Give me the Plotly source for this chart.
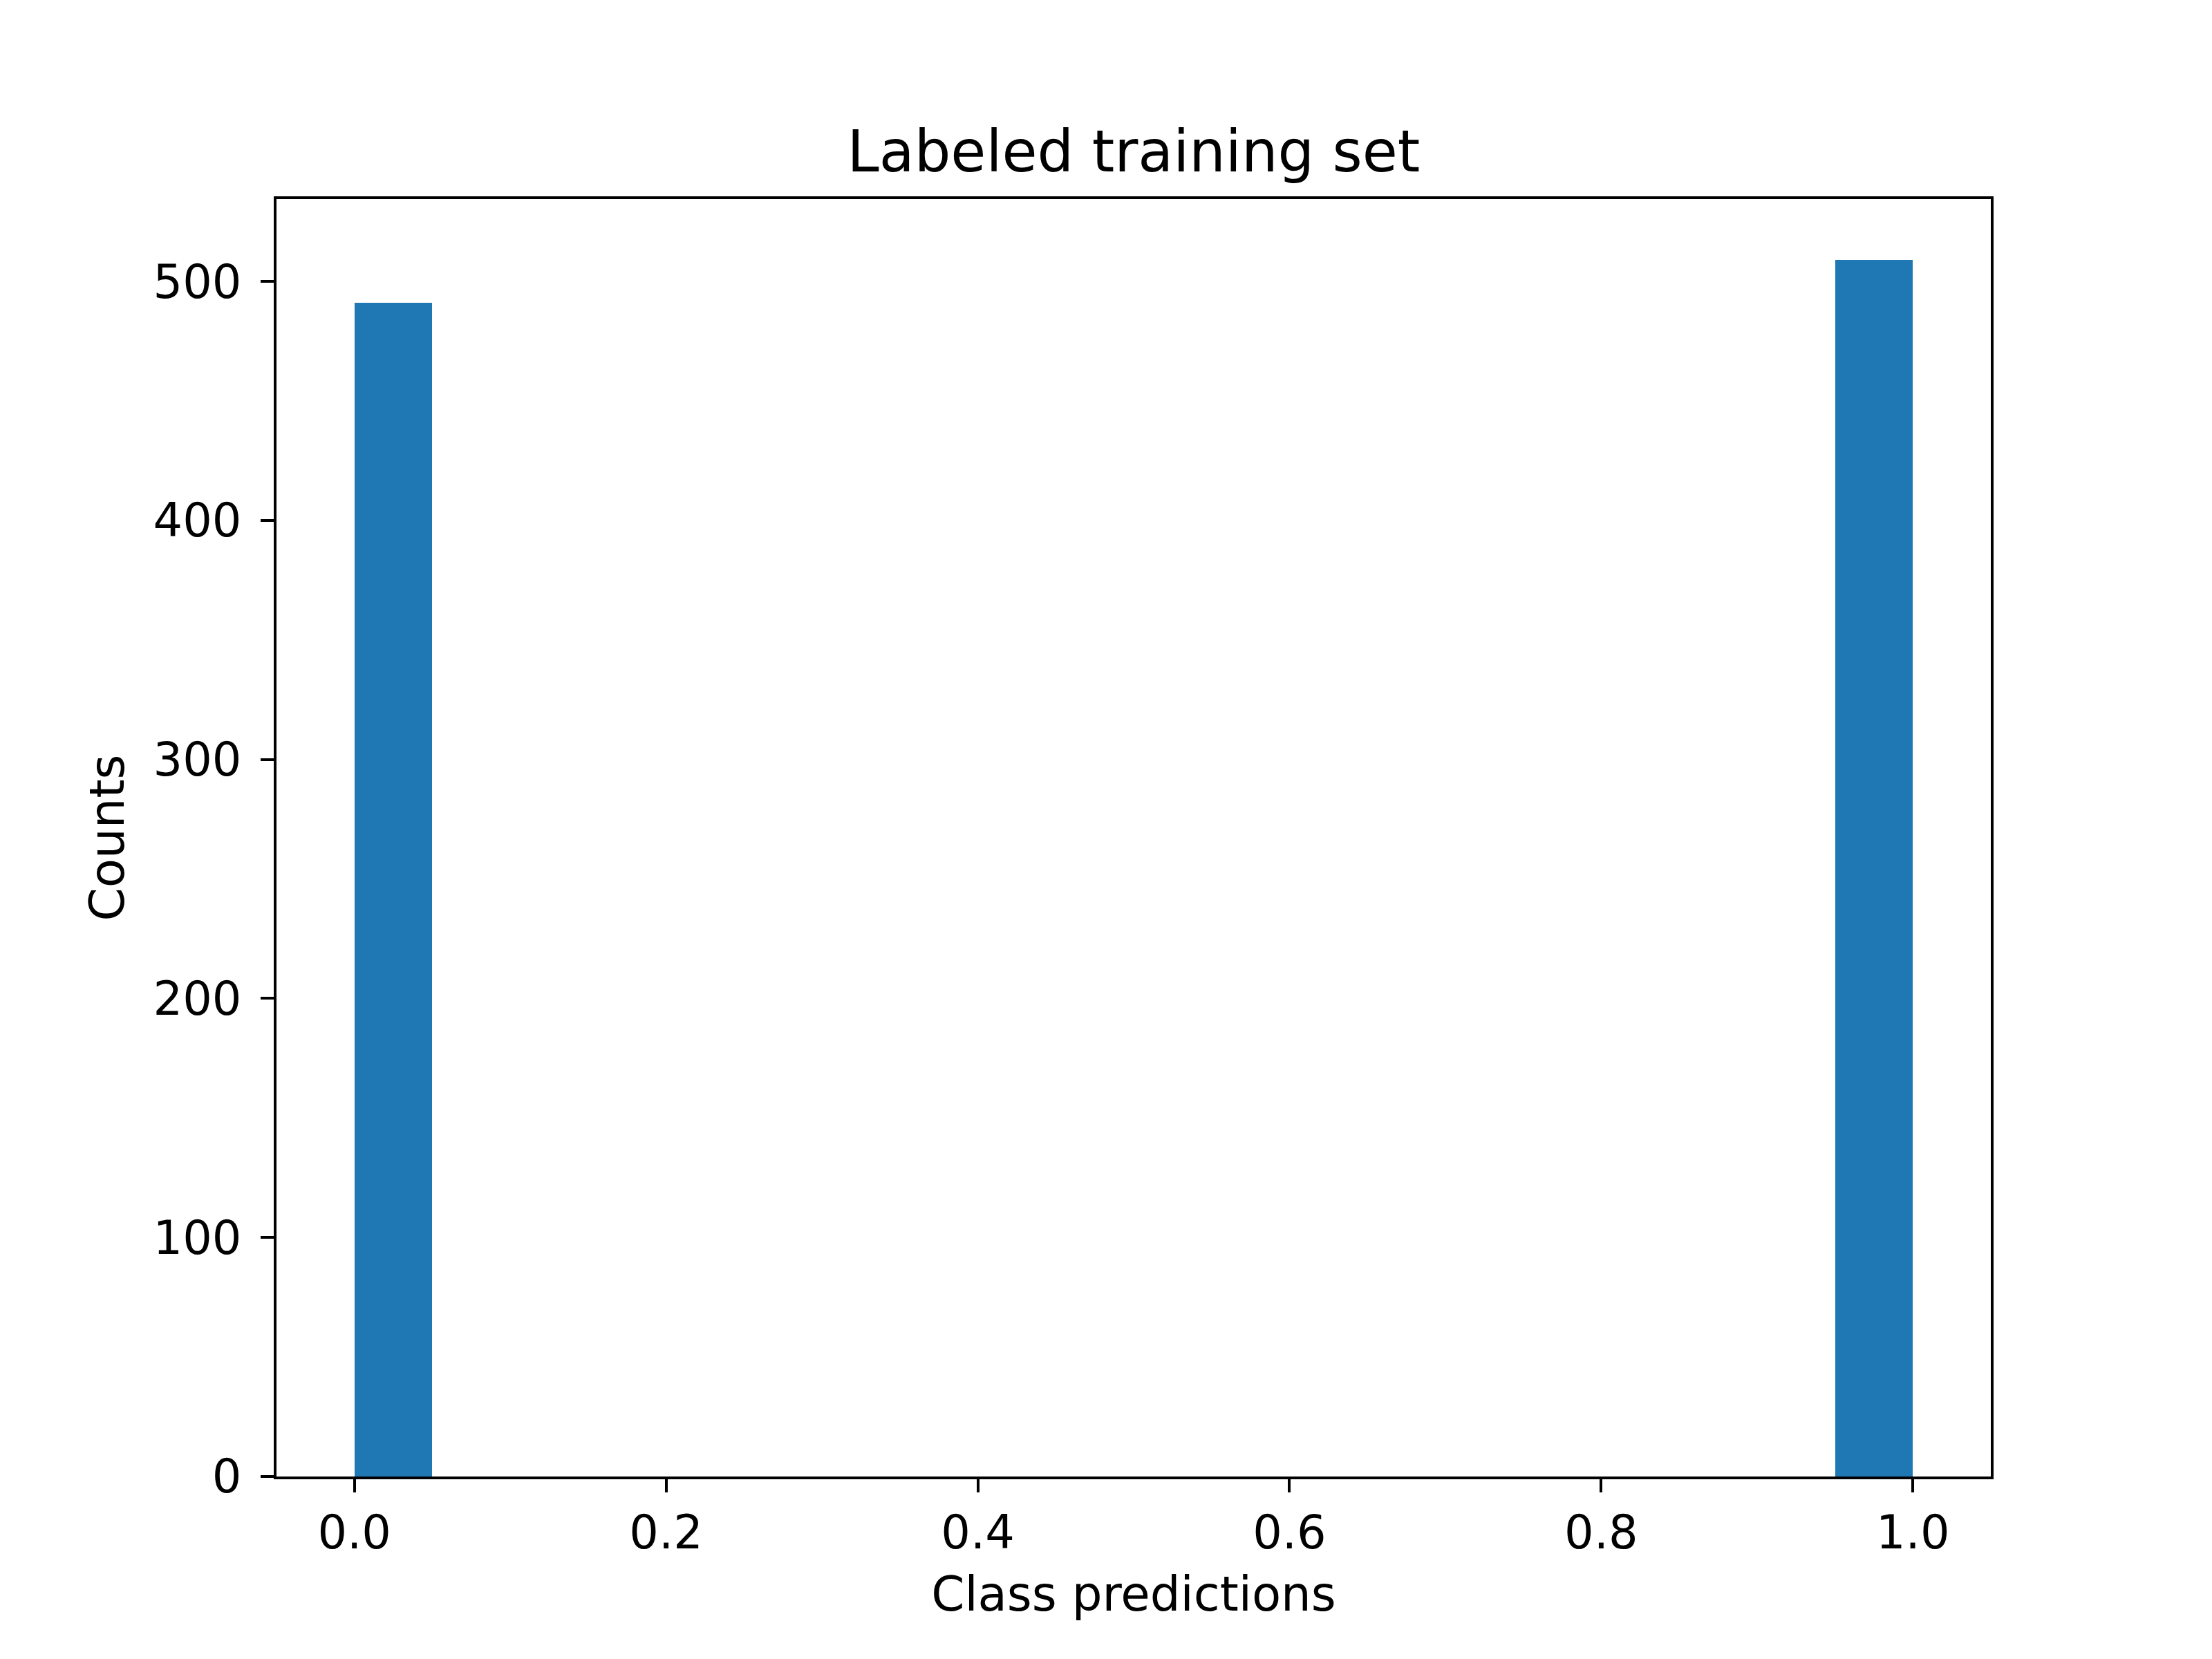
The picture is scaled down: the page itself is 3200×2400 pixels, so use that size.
import plotly.graph_objects as go

# Histogram: 20 bins on [0, 1]
bin_edges = [i * 0.05 for i in range(21)]
counts = [491, 0, 0, 0, 0, 0, 0, 0, 0, 0, 0, 0, 0, 0, 0, 0, 0, 0, 0, 509]
x_ticks = [0.0, 0.2, 0.4, 0.6, 0.8, 1.0]
x_tick_labels = ["0.0", "0.2", "0.4", "0.6", "0.8", "1.0"]
y_ticks = [0, 100, 200, 300, 400, 500]

centers = [(bin_edges[i] + bin_edges[i + 1]) / 2 for i in range(len(counts))]
widths = [bin_edges[i + 1] - bin_edges[i] for i in range(len(counts))]

FONT = "DejaVu Sans"
TICK_SIZE = 67
LABEL_SIZE = 69
TITLE_SIZE = 83
fig = go.Figure(
    go.Bar(x=centers, y=counts, width=widths, marker=dict(color="#1f77b4", line=dict(width=0)))
)

axis_common = dict(
    showline=True, linecolor="black", linewidth=4.4, mirror=True,
    ticks="outside", ticklen=19, tickwidth=4.4, tickcolor="black",
    showgrid=False, zeroline=False,
    tickfont=dict(family=FONT, size=TICK_SIZE, color="black"),
)

# page body has an 8px margin; compensate so the axes box sits at 400..2880 x 288..2136
fig.update_layout(
    width=3200, height=2400,
    margin=dict(l=392, r=328, t=280, b=272),
    paper_bgcolor="white", plot_bgcolor="white",
    showlegend=False,
    bargap=0,
    title=dict(text="Labeled training set", x=0.5, xref="paper", xanchor="center",
               y=1, yref="paper", yanchor="bottom", pad=dict(b=40),
               font=dict(family=FONT, size=TITLE_SIZE, color="black")),
    xaxis=dict(range=[-0.05, 1.05], tickvals=x_ticks, ticktext=x_tick_labels,
               title=dict(text="Class predictions", font=dict(family=FONT, size=LABEL_SIZE, color="black"), standoff=28),
               ticklabelstandoff=0,
               **axis_common),
    yaxis=dict(range=[0, 534.45], tickvals=y_ticks,
               title=dict(text="Counts", font=dict(family=FONT, size=LABEL_SIZE, color="black"), standoff=20),
               ticklabelstandoff=14,
               **axis_common),
)

fig.write_html("out.html")
